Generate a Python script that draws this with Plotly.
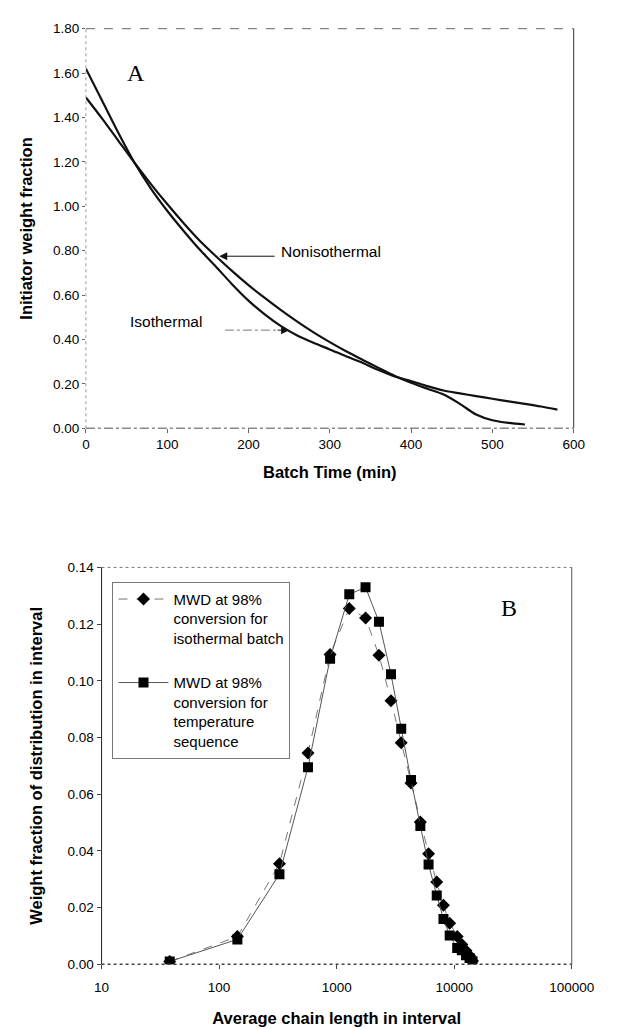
import plotly.graph_objects as go
import math

# ---------------- Panel A data ----------------
time_iso = [0, 20, 40, 60, 80, 100, 120, 140, 160, 180, 200, 220, 240, 260, 280, 300,
            320, 340, 360, 380, 400, 420, 440, 460, 480, 500, 520, 540, 560, 580]
frac_iso = [1.62, 1.475, 1.33, 1.195, 1.08, 0.98, 0.89, 0.805, 0.728, 0.648, 0.575, 0.513,
            0.46, 0.418, 0.385, 0.355, 0.324, 0.295, 0.262, 0.233, 0.213, 0.19, 0.17,
            0.157, 0.145, 0.133, 0.121, 0.11, 0.098, 0.084]

time_non = [0, 20, 40, 60, 80, 100, 120, 140, 160, 180, 200, 220, 240, 260, 280, 300,
            320, 340, 360, 380, 400, 420, 440, 460, 480, 500, 520, 540]
frac_non = [1.49, 1.395, 1.295, 1.195, 1.10, 1.01, 0.925, 0.845, 0.775, 0.708, 0.645, 0.587,
            0.532, 0.48, 0.432, 0.388, 0.347, 0.309, 0.272, 0.236, 0.205, 0.178, 0.152,
            0.11, 0.062, 0.036, 0.024, 0.017]

xticks_a = [0, 100, 200, 300, 400, 500, 600]
yticks_a = [0.0, 0.2, 0.4, 0.6, 0.8, 1.0, 1.2, 1.4, 1.6, 1.8]

# ---------------- Panel B data ----------------
chain_len = [38, 143, 326, 570, 879, 1280, 1760, 2290, 2900, 3540, 4290, 5150, 6050,
             7100, 8100, 9150, 10600, 11600, 12600, 13500, 14300]
wf_iso = [0.001, 0.0098, 0.0355, 0.0745, 0.1093, 0.1255, 0.1222, 0.109, 0.093, 0.0782,
          0.064, 0.0502, 0.0390, 0.0290, 0.0208, 0.0145, 0.0098, 0.0070, 0.0048, 0.0030,
          0.0012]
wf_seq = [0.001, 0.0088, 0.0318, 0.0695, 0.1078, 0.1305, 0.1330, 0.1208, 0.1023, 0.0831,
          0.0650, 0.0488, 0.0352, 0.0243, 0.0160, 0.0102, 0.0058, 0.0050, 0.0032, 0.0022,
          0.0011]
xticks_b = [10, 100, 1000, 10000, 100000]
yticks_b = [0.0, 0.02, 0.04, 0.06, 0.08, 0.10, 0.12, 0.14]

W, H = 619, 1029
FONT = "Liberation Sans, Arial, sans-serif"
SERIF = "Liberation Serif, Times New Roman, serif"

def px_x(p):
    return p / W

def px_y(p):
    return 1 - p / H

# plot-area pixel boxes
A_L, A_R, A_T, A_B = 82, 595.5, 22, 427.5
B_L, B_R, B_T, B_B = 98.5, 593.5, 568.7, 971.5

fig = go.Figure()

fig.add_trace(go.Scatter(x=time_iso, y=frac_iso, mode="lines", xaxis="x", yaxis="y",
                         line=dict(color="#111", width=2.2, shape="spline", smoothing=0.8),
                         showlegend=False, hoverinfo="skip"))
fig.add_trace(go.Scatter(x=time_non, y=frac_non, mode="lines", xaxis="x", yaxis="y",
                         line=dict(color="#111", width=2.2, shape="spline", smoothing=0.8),
                         showlegend=False, hoverinfo="skip"))

fig.add_trace(go.Scatter(x=chain_len, y=wf_iso, mode="lines+markers", xaxis="x2", yaxis="y2",
                         name="MWD at 98%<br>conversion for<br>isothermal batch",
                         legendgroup="a",
                         line=dict(color="#777", width=1, dash="dash"),
                         marker=dict(symbol="diamond", size=10, color="#000"),
                         hoverinfo="skip"))
fig.add_trace(go.Scatter(x=chain_len, y=wf_seq, mode="lines+markers", xaxis="x2", yaxis="y2",
                         name="MWD at 98%<br>conversion for<br>temperature<br>sequence",
                         legendgroup="b",
                         line=dict(color="#555", width=1),
                         marker=dict(symbol="square", size=10, color="#000"),
                         hoverinfo="skip"))

tickfont = dict(family=FONT, size=13.5, color="#000")
titlefont = dict(family=FONT, size=16.5, color="#000", weight="bold")

fig.update_layout(
    width=W, height=H,
    margin=dict(l=0, r=0, t=0, b=0),
    paper_bgcolor="white", plot_bgcolor="white",
    font=dict(family=FONT, color="#000"),
    xaxis=dict(domain=[px_x(A_L), px_x(A_R)], range=[0, 600], anchor="y",
               tickvals=xticks_a, ticktext=[str(v) for v in xticks_a],
               showgrid=False, zeroline=False, showline=False,
               ticks="outside", ticklen=4, tickcolor="#666",
               tickfont=tickfont,
               title=dict(text="Batch Time (min)", font=titlefont, standoff=14)),
    yaxis=dict(domain=[px_y(A_B), px_y(A_T)], range=[0, 1.8], anchor="x",
               tickvals=yticks_a, ticktext=[f"{v:.2f}" for v in yticks_a],
               showgrid=False, zeroline=False, showline=False,
               ticks="outside", ticklen=3, tickcolor="#666",
               tickfont=tickfont,
               title=dict(text="Initiator weight fraction", font=titlefont, standoff=16)),
    xaxis2=dict(domain=[px_x(B_L), px_x(B_R)], type="log",
                range=[1, 5], anchor="y2",
                tickvals=xticks_b, ticktext=[str(v) for v in xticks_b],
                showgrid=False, zeroline=False, showline=False,
                ticks="outside", ticklen=4, tickcolor="#444",
                ticklabelstandoff=6,
                tickfont=tickfont,
                title=dict(text="Average chain length in interval", font=titlefont, standoff=18)),
    yaxis2=dict(domain=[px_y(B_B), px_y(B_T)], range=[0, 0.14], anchor="x2",
                tickvals=yticks_b, ticktext=[f"{v:.2f}" for v in yticks_b],
                showgrid=False, zeroline=False, showline=False,
                ticks="outside", ticklen=4, tickcolor="#444",
                tickfont=tickfont,
                title=dict(text="Weight fraction of distribution in interval", font=titlefont, standoff=20)),
    legend=dict(x=px_x(110), y=px_y(583.3), xanchor="left", yanchor="top",
                bgcolor="rgba(0,0,0,0)", bordercolor="#777", borderwidth=1,
                font=dict(family=FONT, size=15, color="#000"),
                valign="top", traceorder="grouped", tracegroupgap=22,
                itemwidth=50),
)

def border(xref, yref, x0, y0, x1, y1, color, dash, width=1):
    fig.add_shape(type="line", xref=xref, yref=yref, x0=x0, y0=y0, x1=x1, y1=y1,
                  line=dict(color=color, width=width, dash=dash))

# Panel A frame
border("x domain", "y domain", 0, 1, 1, 1, "#666", "dash")
border("x domain", "y domain", 1, 0, 1, 1, "#333", "solid")
border("x domain", "y domain", 0, 0, 0, 1, "#999", "dot")
border("x domain", "y domain", 0, 0, 1, 0, "#888", "dashdot", 1.5)

# Panel B frame
border("x2 domain", "y2 domain", 0, 1, 1, 1, "#777", "dot")
border("x2 domain", "y2 domain", 1, 0, 1, 1, "#555", "solid")
border("x2 domain", "y2 domain", 0, 0, 0, 1, "#222", "solid")
border("x2 domain", "y2 domain", 0, 0, 1, 0, "#444", "dot", 1.5)

# Panel A annotations
fig.add_annotation(x=62, y=1.60, xref="x", yref="y", text="A", showarrow=False,
                   font=dict(family=SERIF, size=24, color="#000"))
fig.add_annotation(x=238, y=0.795, xref="x", yref="y", text="Nonisothermal", showarrow=False,
                   xanchor="left", font=dict(family=FONT, size=15.5, color="#000"))
fig.add_annotation(x=164, y=0.775, ax=234, ay=0.775, xref="x", yref="y", axref="x", ayref="y",
                   text="", showarrow=True, arrowhead=2, arrowsize=1.6, arrowwidth=1, arrowcolor="#111")
fig.add_annotation(x=52, y=0.482, xref="x", yref="y", text="Isothermal", showarrow=False,
                   xanchor="left", font=dict(family=FONT, size=15.5, color="#000"))
fig.add_shape(type="line", xref="x", yref="y", x0=171, y0=0.442, x1=236, y1=0.442,
              line=dict(color="#777", width=1, dash="dashdot"))
fig.add_annotation(x=250, y=0.442, ax=234, ay=0.442, xref="x", yref="y", axref="x", ayref="y",
                   text="", showarrow=True, arrowhead=2, arrowsize=1.6, arrowwidth=1, arrowcolor="#111")

# Panel B annotation
fig.add_annotation(x=math.log10(29000), y=0.1257, xref="x2", yref="y2", text="B", showarrow=False,
                   font=dict(family=SERIF, size=24, color="#000"))

fig.write_html("out.html", config={"displayModeBar": False},
               post_script="document.body.style.margin='0';")
